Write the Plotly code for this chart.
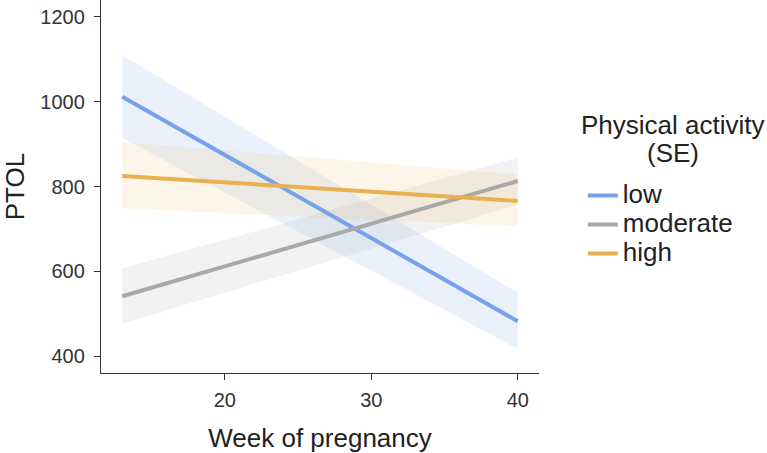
import plotly.graph_objects as go

weeks = [13, 40]
groups = ["low", "moderate", "high"]
fit = {"low": [1012, 482], "moderate": [541, 813], "high": [825, 766]}
lower = {"low": [915, 417], "moderate": [477, 757], "high": [748, 706]}
upper = {"low": [1110, 549], "moderate": [607, 868], "high": [905, 828]}
colors = {"low": "#76a2ec", "moderate": "#a8a8a8", "high": "#e9b04f"}
fills = {"low": "rgba(116,160,234,0.15)", "moderate": "rgba(168,168,168,0.15)", "high": "rgba(240,185,90,0.14)"}
legend_title_lines = ["Physical activity", "(SE)"]

fig = go.Figure()
for g in groups:
    fig.add_trace(go.Scatter(x=weeks + weeks[::-1], y=upper[g] + lower[g][::-1],
                             fill="toself", fillcolor=fills[g], line=dict(width=0),
                             mode="lines", showlegend=False, hoverinfo="skip", legendgroup=g))
for g in groups:
    fig.add_trace(go.Scatter(x=weeks, y=fit[g], mode="lines",
                             name="<span style='font-size:26px'>%s</span>" % g,
                             line=dict(color=colors[g], width=4), legendgroup=g))

axis_common = dict(showgrid=False, zeroline=False, showline=True, linecolor="#333333", linewidth=1.3,
                   ticks="outside", ticklen=6, tickcolor="#333333", tickwidth=1.3,
                   tickfont=dict(size=20, color="#333333"), automargin=False)
fig.update_layout(
    width=767, height=453,
    margin=dict(l=101, r=228, t=0, b=80),
    plot_bgcolor="white", paper_bgcolor="white",
    font=dict(family="Liberation Sans, Arial, sans-serif", color="#222222"),
    xaxis=dict(range=[11.55, 41.45], tickvals=[20, 30, 40], ticklabelstandoff=3,
               title=dict(text="Week of pregnancy", font=dict(size=26, color="#222222"), standoff=18),
               **axis_common),
    yaxis=dict(range=[360, 1240], tickvals=[400, 600, 800, 1000, 1200], ticklabelstandoff=5,
               title=dict(text="PTOL", font=dict(size=26, color="#222222"), standoff=14),
               **axis_common),
    legend=dict(x=1.1, y=0.528, xanchor="left", yanchor="top",
                font=dict(size=20, color="#222222"), tracegroupgap=0, itemwidth=30),
    annotations=[dict(text=t, x=1.305, y=yy, xref="paper", yref="paper",
                      xanchor="center", yanchor="middle", showarrow=False,
                      font=dict(size=26, color="#222222"))
                 for t, yy in zip(legend_title_lines, [0.665, 0.590])],
)
fig.write_html("out.html")
